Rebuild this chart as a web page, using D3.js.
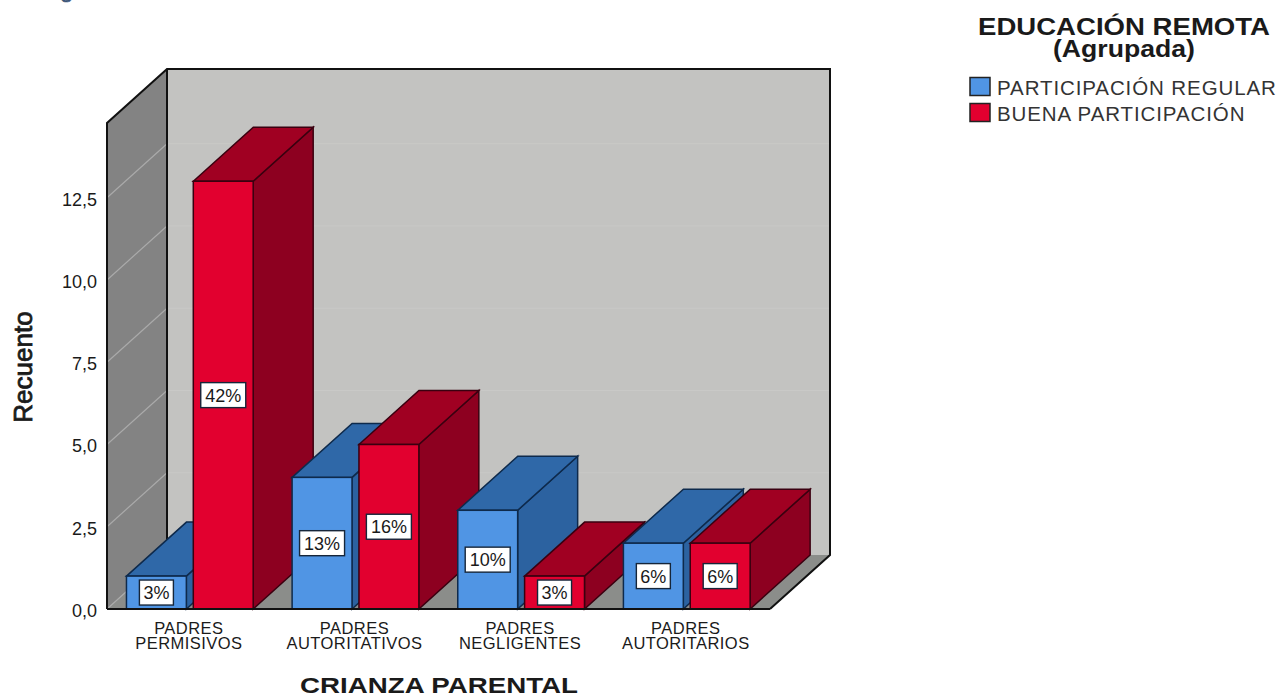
<!DOCTYPE html>
<html><head><meta charset="utf-8">
<script src="https://cdn.jsdelivr.net/npm/d3@7"></script>
<style>html,body{margin:0;padding:0;background:#fff;overflow:hidden}svg{display:block}text{font-family:"Liberation Sans",Arial,sans-serif;fill:#1a1a1a}</style>
</head><body><svg id="c" width="1281" height="698"></svg>
<script>
const categories = ["PADRES PERMISIVOS","PADRES AUTORITATIVOS","PADRES NEGLIGENTES","PADRES AUTORITARIOS"];
const seriesNames = ["PARTICIPACIÓN REGULAR","BUENA PARTICIPACIÓN"];
const regular = [1,4,3,2];
const buena = [13,5,1,2];
const regularPct = ["3%","13%","10%","6%"];
const buenaPct = ["42%","16%","3%","6%"];
const yTicks = [0,2.5,5,7.5,10,12.5];
const yMax = 14.77;

const svg = d3.select("#c");
const depthX = 60, depthY = -54;
const y = d3.scaleLinear().domain([0,yMax]).range([609,123]);
const x0 = d3.scaleBand().domain(categories).range([107,769.6]).paddingInner(0.235).paddingOuter(0.1175);
const x1 = d3.scaleBand().domain(seriesNames).range([0,x0.bandwidth()]).paddingInner(0.104);
const fmt = v => d3.format(".1f")(v).replace(".",",");
const poly = pts => pts.map(p=>p.join(",")).join(" ");
const L=107, R=770, B=y(0), T=y(yMax);
const line = "#111";

// text fragment cut by the top edge
svg.append("text").attr("x",40).attr("y",-3).attr("font-size",24).attr("stroke","#3b5578").attr("stroke-width",.6).style("fill","#3b5578").text("Figura");

// walls
svg.append("polygon").attr("points",poly([[L+depthX,T+depthY],[R+depthX,T+depthY],[R+depthX,B+depthY],[L+depthX,B+depthY]])).attr("fill","#c3c3c1");
svg.append("polygon").attr("points",poly([[L,T],[L+depthX,T+depthY],[L+depthX,B+depthY],[L,B]])).attr("fill","#838383");
svg.append("polygon").attr("points",poly([[L,B],[L+depthX,B+depthY],[R+depthX,B+depthY],[R,B]])).attr("fill","#8b8d8a");

// gridlines
const grid = svg.append("g");
yTicks.forEach(t=>{
  grid.append("line").attr("x1",L).attr("x2",L+depthX).attr("y1",y(t)).attr("y2",y(t)+depthY).attr("stroke","#aaaaaa").attr("stroke-width",1.2);
  if(t>0) grid.append("line").attr("x1",L+depthX).attr("x2",R+depthX).attr("y1",y(t)+depthY).attr("y2",y(t)+depthY).attr("stroke","#c9c9c7").attr("stroke-width",1);
});

// frame
const frame = svg.append("g").attr("fill","none").attr("stroke",line).attr("stroke-width",2);
frame.append("polyline").attr("points",poly([[L,B],[L,T],[L+depthX,T+depthY],[R+depthX,T+depthY],[R+depthX,B+depthY],[R,B]]));
frame.append("line").attr("x1",L+depthX).attr("x2",L+depthX).attr("y1",T+depthY).attr("y2",B+depthY);

// bars
const palette = {
  [seriesNames[0]]:{front:"#5095e4",top:"#2f68a8",side:"#2c62a0",edge:"#0e2a4c"},
  [seriesNames[1]]:{front:"#e2002f",top:"#a00022",side:"#8d0020",edge:"#3a0010"}
};
const rows=[];
categories.forEach((c,i)=>{
  rows.push({c,s:seriesNames[0],v:regular[i],p:regularPct[i]});
  rows.push({c,s:seriesNames[1],v:buena[i],p:buenaPct[i]});
});
const bars = svg.append("g").selectAll("g").data(rows).join("g");
bars.each(function(d){
  const g=d3.select(this), a=x0(d.c)+x1(d.s), b=a+x1.bandwidth(), t=y(d.v), col=palette[d.s];
  g.append("polygon").attr("points",poly([[b,t],[b+depthX,t+depthY],[b+depthX,B+depthY],[b,B]])).attr("fill",col.side).attr("stroke",col.edge).attr("stroke-width",1.5);
  g.append("polygon").attr("points",poly([[a,t],[a+depthX,t+depthY],[b+depthX,t+depthY],[b,t]])).attr("fill",col.top).attr("stroke",col.edge).attr("stroke-width",1.5);
  g.append("rect").attr("x",a).attr("y",t).attr("width",b-a).attr("height",B-t).attr("fill",col.front).attr("stroke",col.edge).attr("stroke-width",1.5);
});
// percentage labels
bars.each(function(d){
  const g=d3.select(this), cx=x0(d.c)+x1(d.s)+x1.bandwidth()/2, cy=(y(d.v)+B)/2;
  const w=d.p.length>2?45:34;
  g.append("rect").attr("x",cx-w/2).attr("y",cy-12.5).attr("width",w).attr("height",25).attr("fill","#fff").attr("stroke","#16263a").attr("stroke-width",1.4);
  g.append("text").attr("x",cx).attr("y",cy+6.5).attr("text-anchor","middle").attr("font-size",18).text(d.p);
});
// floor front line on top
svg.append("line").attr("x1",L).attr("x2",R).attr("y1",B).attr("y2",B).attr("stroke",line).attr("stroke-width",2);

// y tick labels
svg.append("g").selectAll("text").data(yTicks).join("text")
  .attr("x",97).attr("y",t=>y(t)+8).attr("text-anchor","end").attr("font-size",18).text(fmt);

// category labels
const cats = svg.append("g").selectAll("text").data(categories).join("text")
  .attr("text-anchor","middle").attr("font-size",16.5).attr("letter-spacing",.45);
cats.each(function(c){
  const parts=c.split(" "), cx=x0(c)+x0.bandwidth()/2-1;
  d3.select(this).selectAll("tspan").data(parts).join("tspan").attr("x",cx).attr("y",(p,i)=>633.5+i*15).text(p=>p);
});

// axis titles
svg.append("text").attr("transform","translate(32,367) rotate(-90)").attr("text-anchor","middle").attr("font-size",26).attr("stroke","#1a1a1a").attr("stroke-width",.8).text("Recuento");
svg.append("text").attr("x",439).attr("y",693).attr("text-anchor","middle").attr("font-size",22).attr("font-weight","bold").attr("textLength",278).attr("lengthAdjust","spacingAndGlyphs").text("CRIANZA PARENTAL");

// legend
svg.append("text").attr("x",1124).attr("y",35).attr("text-anchor","middle").attr("font-size",23).attr("font-weight","bold").attr("textLength",292).attr("lengthAdjust","spacingAndGlyphs").text("EDUCACIÓN REMOTA");
svg.append("text").attr("x",1124).attr("y",57).attr("text-anchor","middle").attr("font-size",23).attr("font-weight","bold").attr("textLength",142).attr("lengthAdjust","spacingAndGlyphs").text("(Agrupada)");
const legend = svg.append("g").selectAll("g").data(seriesNames).join("g").attr("transform",(d,i)=>`translate(970,${77.5+i*26})`);
legend.append("rect").attr("width",20).attr("height",18).attr("fill",d=>palette[d].front).attr("stroke","#222").attr("stroke-width",1.5);
legend.append("text").attr("x",27).attr("y",17.5).attr("font-size",20.5).attr("letter-spacing",.9).style("fill","#333").text(d=>d);
</script></body></html>
